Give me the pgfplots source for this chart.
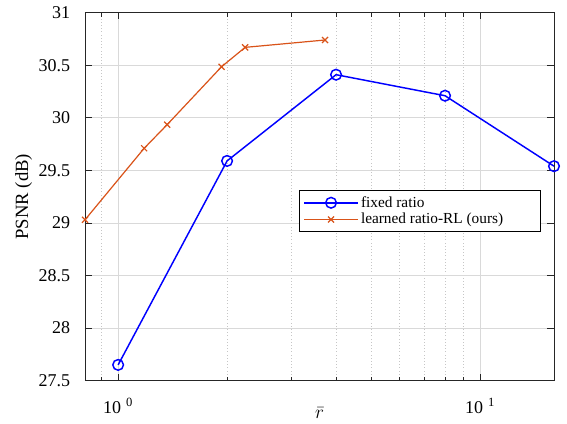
\documentclass[border=0pt]{standalone}
\usepackage{fontspec}
\setmainfont{Liberation Serif}
\usepackage{pgfplots}
\pgfplotsset{compat=1.18}

\definecolor{mblue}{rgb}{0,0,1}
\definecolor{morange}{rgb}{0.85,0.325,0.098}
\definecolor{axgray}{rgb}{0.15,0.15,0.15}

\begin{document}
\begin{tikzpicture}
\begin{axis}[
  scale only axis,
  width=351.75pt, height=276pt,
  xmode=log,
  xmin=0.81, xmax=16,
  ymin=27.5, ymax=31,
  xtick={1,10},
  xticklabels={10\;\textsuperscript{0}, 10\;\textsuperscript{1}},
  ytick={27.5,28,28.5,29,29.5,30,30.5,31},
  yticklabels={27.5,28,28.5,29,29.5,30,30.5,31},
  minor xtick={0.9,2,3,4,5,6,7,8,9},
  tick label style={font=\fontsize{13.5}{15}\selectfont},
  yticklabel style={inner sep=0pt, anchor=east, xshift=-11pt},
  xticklabel style={inner sep=0pt, anchor=center, yshift=-19pt},
  xlabel={$\bar{r}$},
  ylabel={PSNR (dB)},
  xlabel style={font=\fontsize{14}{16}\selectfont, at={(axis description cs:0.5,-0.087)}, anchor=center},
  ylabel style={font=\fontsize{14}{16}\selectfont, at={(axis description cs:-0.131,0.5)}, anchor=center},
  tick align=inside,
  major tick length=5pt,
  minor tick length=3pt,
  axis line style={axgray, line width=0.6pt},
  every tick/.style={axgray, line width=0.5pt},
  grid=both,
  major grid style={gray!30, line width=0.5pt},
  minor grid style={gray!45, dotted, line width=0.5pt},
  legend style={at={(0.972,0.518)}, anchor=north east, draw=black,
    line width=0.5pt, font=\fontsize{11.5}{13}\selectfont,
    inner xsep=3pt, inner ysep=2.5pt, row sep=-1pt},
  legend cell align=left,
  legend image code/.code={%
    \draw[mark repeat=2, mark phase=2] plot coordinates {(0cm,0cm) (0.7cm,0cm) (1.4cm,0cm)};},
]
\addplot[mblue, line width=1.1pt, mark=o, mark size=4pt, mark options={line width=1.1pt}]
  coordinates {(1,27.65) (2,29.59) (4,30.41) (8,30.21) (16,29.54)};
\addlegendentry{fixed ratio}
\addplot[morange, line width=0.9pt, mark=x, mark size=3.2pt, mark options={line width=0.9pt}]
  coordinates {(0.81,29.03) (1.18,29.71) (1.366,29.935) (1.93,30.485) (2.243,30.67) (3.73,30.74)};
\addlegendentry{learned ratio-RL (ours)\hspace{23pt}\mbox{}}
\end{axis}
\pgfresetboundingbox
\path[use as bounding box] ([xshift=-63.75pt,yshift=-32.5pt]current axis.south west)
  rectangle ([xshift=9.75pt,yshift=9.5pt]current axis.north east);
\end{tikzpicture}
\end{document}
